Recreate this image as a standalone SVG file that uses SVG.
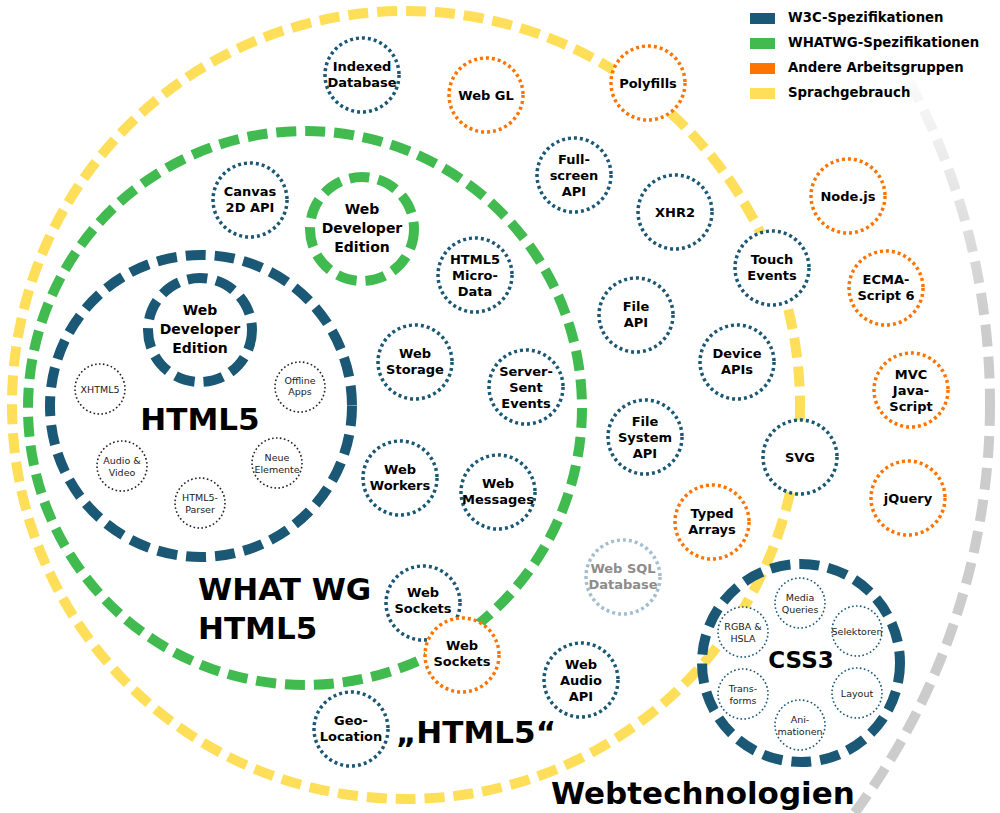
<svg xmlns="http://www.w3.org/2000/svg" width="1000" height="813" viewBox="0 0 1000 813">
<defs>
<linearGradient id="grayFade" gradientUnits="userSpaceOnUse" x1="0" y1="55" x2="0" y2="320">
<stop offset="0" stop-color="#cccccc" stop-opacity="0"/>
<stop offset="1" stop-color="#cccccc" stop-opacity="1"/>
</linearGradient>
</defs>
<style>
.big{fill:none;stroke-width:10;stroke-dasharray:20 9}
.n{fill:#fff;stroke-width:3.5;stroke-dasharray:3 3}
.s{fill:#fff;stroke-width:1.6;stroke-dasharray:1.6 2.4}
.w3c{stroke:#1a5876}
.wg{stroke:#41bb50}
.oth{stroke:#ff7400}
.yel{stroke:#ffde5a}
.sql{stroke:#a3bfcd}
.blk{stroke:#222}
text{font-family:"DejaVu Sans","Liberation Sans",sans-serif}
.t{font-weight:bold;font-size:13px;text-anchor:middle;fill:#000}
.st{font-size:9.5px;text-anchor:middle;fill:#222}
.de{font-weight:bold;font-size:14px;text-anchor:middle;fill:#000}
.h{font-weight:bold;font-size:31px;fill:#000}
.lg{font-weight:bold;font-size:13.3px;fill:#000}
</style>
<rect width="1000" height="813" fill="#fff"/>

<g id="region-webtechnologien">
<circle cx="305" cy="404" r="685" fill="none" stroke="url(#grayFade)" stroke-width="10" stroke-dasharray="22 10"/>
<text class="h" x="551" y="804">Webtechnologien</text>
</g>

<g id="region-html5-sprachgebrauch">
<circle class="big yel" cx="406" cy="405" r="394"/>
<text class="h" x="396" y="743">„HTML5“</text>
</g>

<g id="region-whatwg-html5">
<circle class="big wg" cx="305" cy="408" r="277"/>
<text class="h" x="198" y="600">WHAT WG</text>
<text class="h" x="198" y="639">HTML5</text>
</g>

<g id="region-w3c-html5">
<circle class="big w3c" cx="201" cy="406" r="151"/>
<text class="h" x="200" y="430" text-anchor="middle">HTML5</text>
</g>

<g id="w3c-web-developer-edition">
<circle class="big w3c" cx="200" cy="330" r="52" stroke-dasharray="19 9"/>
<text class="de" x="200" y="315">Web</text>
<text class="de" x="200" y="334">Developer</text>
<text class="de" x="200" y="353">Edition</text>
</g>

<g id="whatwg-web-developer-edition">
<circle class="big wg" cx="362" cy="229" r="52" stroke-dasharray="19 9"/>
<text class="de" x="362" y="214">Web</text>
<text class="de" x="362" y="233">Developer</text>
<text class="de" x="362" y="252">Edition</text>
</g>

<g id="html5-sub">
<g id="xhtml5"><circle class="s blk" cx="100" cy="389" r="25"/><text class="st" x="100" y="393">XHTML5</text></g>
<g id="offline-apps"><circle class="s blk" cx="300" cy="387" r="25"/><text class="st" x="300" y="384">Offline</text><text class="st" x="300" y="395">Apps</text></g>
<g id="audio-video"><circle class="s blk" cx="122" cy="466" r="25"/><text class="st" x="122" y="464">Audio &amp;</text><text class="st" x="122" y="476">Video</text></g>
<g id="neue-elemente"><circle class="s blk" cx="277" cy="463" r="25"/><text class="st" x="277" y="461">Neue</text><text class="st" x="277" y="473">Elemente</text></g>
<g id="html5-parser"><circle class="s blk" cx="200" cy="503" r="25"/><text class="st" x="200" y="501">HTML5-</text><text class="st" x="200" y="513">Parser</text></g>
</g>

<g id="nodes">
<g id="indexed-database"><circle class="n w3c" cx="362" cy="75" r="37"/><text class="t" x="362" y="71">Indexed</text><text class="t" x="362" y="87">Database</text></g>
<g id="web-gl"><circle class="n oth" cx="486" cy="95" r="37"/><text class="t" x="486" y="100">Web GL</text></g>
<g id="polyfills"><circle class="n oth" cx="648" cy="83" r="37"/><text class="t" x="648" y="88">Polyfills</text></g>
<g id="canvas-2d-api"><circle class="n w3c" cx="250" cy="200" r="37"/><text class="t" x="250" y="196">Canvas</text><text class="t" x="250" y="212">2D API</text></g>
<g id="fullscreen-api"><circle class="n w3c" cx="574" cy="175" r="37"/><text class="t" x="574" y="164">Full-</text><text class="t" x="574" y="180">screen</text><text class="t" x="574" y="196">API</text></g>
<g id="xhr2"><circle class="n w3c" cx="675" cy="212" r="37"/><text class="t" x="675" y="217">XHR2</text></g>
<g id="nodejs"><circle class="n oth" cx="848" cy="196" r="37"/><text class="t" x="848" y="201">Node.js</text></g>
<g id="touch-events"><circle class="n w3c" cx="772" cy="268" r="37"/><text class="t" x="772" y="264">Touch</text><text class="t" x="772" y="280">Events</text></g>
<g id="ecmascript6"><circle class="n oth" cx="886" cy="288" r="37"/><text class="t" x="886" y="284">ECMA-</text><text class="t" x="886" y="300">Script 6</text></g>
<g id="html5-microdata"><circle class="n w3c" cx="475" cy="275" r="37"/><text class="t" x="475" y="264">HTML5</text><text class="t" x="475" y="280">Micro-</text><text class="t" x="475" y="296">Data</text></g>
<g id="file-api"><circle class="n w3c" cx="636" cy="315" r="37"/><text class="t" x="636" y="311">File</text><text class="t" x="636" y="327">API</text></g>
<g id="device-apis"><circle class="n w3c" cx="737" cy="362" r="37"/><text class="t" x="737" y="358">Device</text><text class="t" x="737" y="374">APIs</text></g>
<g id="mvc-javascript"><circle class="n oth" cx="911" cy="390" r="37"/><text class="t" x="911" y="379">MVC</text><text class="t" x="911" y="395">Java-</text><text class="t" x="911" y="411">Script</text></g>
<g id="web-storage"><circle class="n w3c" cx="415" cy="362" r="37"/><text class="t" x="415" y="358">Web</text><text class="t" x="415" y="374">Storage</text></g>
<g id="server-sent-events"><circle class="n w3c" cx="526" cy="387" r="37"/><text class="t" x="526" y="376">Server-</text><text class="t" x="526" y="392">Sent</text><text class="t" x="526" y="408">Events</text></g>
<g id="file-system-api"><circle class="n w3c" cx="645" cy="437" r="37"/><text class="t" x="645" y="426">File</text><text class="t" x="645" y="442">System</text><text class="t" x="645" y="458">API</text></g>
<g id="svg"><circle class="n w3c" cx="800" cy="457" r="37"/><text class="t" x="800" y="462">SVG</text></g>
<g id="jquery"><circle class="n oth" cx="908" cy="498" r="37"/><text class="t" x="908" y="503">jQuery</text></g>
<g id="web-workers"><circle class="n w3c" cx="400" cy="478" r="37"/><text class="t" x="400" y="474">Web</text><text class="t" x="400" y="490">Workers</text></g>
<g id="web-messages"><circle class="n w3c" cx="498" cy="492" r="37"/><text class="t" x="498" y="488">Web</text><text class="t" x="498" y="504">Messages</text></g>
<g id="typed-arrays"><circle class="n oth" cx="712" cy="522" r="37"/><text class="t" x="712" y="518">Typed</text><text class="t" x="712" y="534">Arrays</text></g>
<g id="web-sql-database"><circle class="n sql" cx="623" cy="577" r="37"/><text class="t" x="623" y="573" style="fill:#8c8c8c">Web SQL</text><text class="t" x="623" y="589" style="fill:#8c8c8c">Database</text></g>
<g id="web-sockets-w3c"><circle class="n w3c" cx="423" cy="603" r="37"/><text class="t" x="423" y="597">Web</text><text class="t" x="423" y="613">Sockets</text></g>
<g id="web-sockets-other"><circle class="n oth" cx="462" cy="655" r="37"/><text class="t" x="462" y="650">Web</text><text class="t" x="462" y="666">Sockets</text></g>
<g id="web-audio-api"><circle class="n w3c" cx="581" cy="680" r="37"/><text class="t" x="581" y="669">Web</text><text class="t" x="581" y="685">Audio</text><text class="t" x="581" y="701">API</text></g>
<g id="geo-location"><circle class="n w3c" cx="351" cy="729" r="37"/><text class="t" x="351" y="725">Geo-</text><text class="t" x="351" y="741">Location</text></g>
</g>

<g id="css3">
<circle class="big w3c" cx="801" cy="663" r="99" fill="#fff" stroke-width="8" stroke-dasharray="15 7"/>
<text x="801" y="668" style="font-weight:bold;font-size:23px;text-anchor:middle;fill:#000">CSS3</text>
<g id="media-queries"><circle class="s w3c" cx="800" cy="603" r="25"/><text class="st" x="800" y="601">Media</text><text class="st" x="800" y="613">Queries</text></g>
<g id="rgba-hsla"><circle class="s w3c" cx="743" cy="632" r="25"/><text class="st" x="743" y="630">RGBA &amp;</text><text class="st" x="743" y="642">HSLA</text></g>
<g id="selektoren"><circle class="s w3c" cx="857" cy="631" r="25"/><text class="st" x="857" y="635">Selektoren</text></g>
<g id="transforms"><circle class="s w3c" cx="743" cy="694" r="25"/><text class="st" x="743" y="692">Trans-</text><text class="st" x="743" y="704">forms</text></g>
<g id="layout"><circle class="s w3c" cx="857" cy="693" r="25"/><text class="st" x="857" y="697">Layout</text></g>
<g id="animationen"><circle class="s w3c" cx="800" cy="725" r="25"/><text class="st" x="800" y="723">Ani-</text><text class="st" x="800" y="735">mationen</text></g>
</g>

<g id="legend">
<rect x="750" y="13" width="25" height="11" fill="#1a5876"/>
<text class="lg" x="788" y="22">W3C-Spezifikationen</text>
<rect x="750" y="38" width="25" height="11" fill="#41bb50"/>
<text class="lg" x="788" y="47">WHATWG-Spezifikationen</text>
<rect x="750" y="63" width="25" height="11" fill="#ff7400"/>
<text class="lg" x="788" y="72">Andere Arbeitsgruppen</text>
<rect x="750" y="88" width="25" height="11" fill="#ffde5a"/>
<text class="lg" x="788" y="97">Sprachgebrauch</text>
</g>
</svg>
